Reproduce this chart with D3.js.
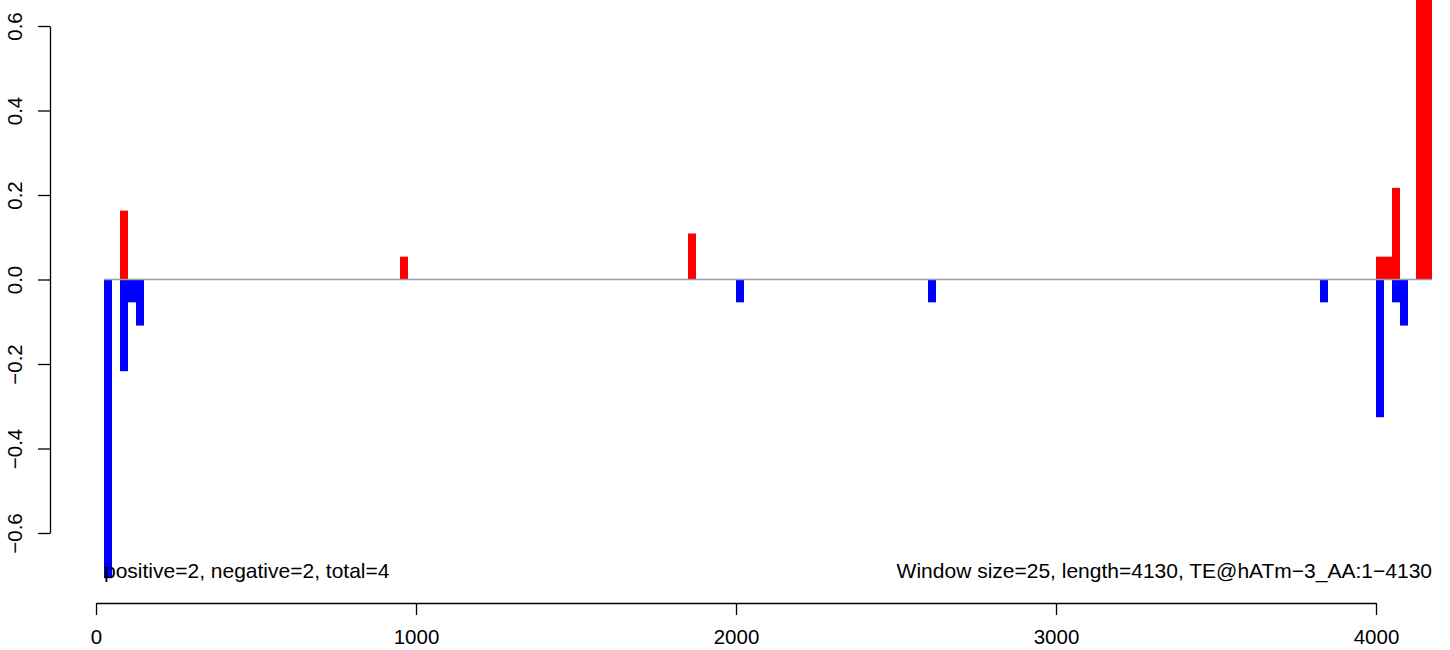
<!DOCTYPE html>
<html>
<head>
<meta charset="utf-8">
<script src="https://cdn.jsdelivr.net/npm/d3@7"></script>
<style>
  html, body { margin: 0; padding: 0; background: #fff; }
  svg { display: block; }
  text { font-family: "Liberation Sans", Arial, Helvetica, sans-serif; }
</style>
</head>
<body>
<svg id="chart" width="1450" height="650"></svg>
<script>
// ---- data ----
const windowSize = 25;
const seqLength = 4130;
const posStarts = [75, 950, 1850, 4000, 4025, 4050, 4125, 4150];
const posValues = [0.163, 0.054, 0.109, 0.054, 0.054, 0.217, 0.707, 0.707];
const negStarts = [25, 75, 100, 125, 2000, 2600, 3825, 4000, 4050, 4075];
const negValues = [-0.707, -0.217, -0.054, -0.109, -0.054, -0.054, -0.054, -0.326, -0.054, -0.109];
const xTicks = [0, 1000, 2000, 3000, 4000];
const yTicks = [-0.6, -0.4, -0.2, 0.0, 0.2, 0.4, 0.6];
const leftNote = "positive=2, negative=2, total=4";
const rightNote = "Window size=25, length=4130, TE@hATm\u22123_AA:1\u22124130";

// ---- layout ----
const svg = d3.select("#chart");
const x = d3.scaleLinear().domain([0, 4000]).range([96, 1376]);
const y = d3.scaleLinear().domain([-0.6, 0.6]).range([533, 26]);
const fontSize = 20.5;
const noteSize = 21;

const fmtY = d => d3.format(".1f")(d).replace("-", "\u2212");

// bars
const pos = posStarts.map((s, i) => ({s, v: posValues[i]}));
const neg = negStarts.map((s, i) => ({s, v: negValues[i]}));

svg.append("g").selectAll("rect").data(pos).join("rect")
  .attr("x", d => x(d.s))
  .attr("width", d => x(d.s + windowSize) - x(d.s))
  .attr("y", d => y(d.v))
  .attr("height", d => y(0) - y(d.v))
  .attr("fill", "#ff0000");

svg.append("g").selectAll("rect").data(neg).join("rect")
  .attr("x", d => x(d.s))
  .attr("width", d => x(d.s + windowSize) - x(d.s))
  .attr("y", y(0))
  .attr("height", d => y(d.v) - y(0))
  .attr("fill", "#0000ff");

// zero line from first window to last window end
const allStarts = posStarts.concat(negStarts);
svg.append("line")
  .attr("x1", x(d3.min(allStarts)))
  .attr("x2", x(d3.max(allStarts) + windowSize))
  .attr("y1", y(0)).attr("y2", y(0))
  .attr("stroke", "#9a9a9a").attr("stroke-width", 1.4);

// x axis
const xAxis = d3.axisBottom(x).tickValues(xTicks).tickFormat(d3.format("d"))
  .tickSize(12).tickSizeOuter(0).tickPadding(14);
const gx = svg.append("g").attr("transform", "translate(0,603)").call(xAxis);
gx.select(".domain").attr("stroke", "#000").attr("stroke-width", 1.3);
gx.selectAll(".tick line").attr("stroke", "#000").attr("stroke-width", 1.3);
gx.selectAll(".tick text").attr("font-size", fontSize).attr("fill", "#000")
  .attr("font-family", "Liberation Sans, Arial, sans-serif");

// y axis
const yAxis = d3.axisLeft(y).tickValues(yTicks).tickFormat(fmtY)
  .tickSize(12).tickSizeOuter(0).tickPadding(0);
const gy = svg.append("g").attr("transform", "translate(50,0)").call(yAxis);
gy.select(".domain").attr("stroke", "#000").attr("stroke-width", 1.3);
gy.selectAll(".tick line").attr("stroke", "#000").attr("stroke-width", 1.3);
gy.selectAll(".tick text")
  .attr("font-size", fontSize).attr("fill", "#000")
  .attr("font-family", "Liberation Sans, Arial, sans-serif")
  .attr("text-anchor", "middle")
  .attr("dy", null)
  .attr("x", null)
  .attr("transform", "translate(-28,0) rotate(-90)");

// notes
svg.append("text").attr("x", x(25)).attr("y", 578)
  .attr("font-size", noteSize).attr("fill", "#000").text(leftNote);
svg.append("text").attr("x", x(4175)).attr("y", 578)
  .attr("text-anchor", "end")
  .attr("font-size", noteSize).attr("fill", "#000").text(rightNote);
</script>
</body>
</html>
